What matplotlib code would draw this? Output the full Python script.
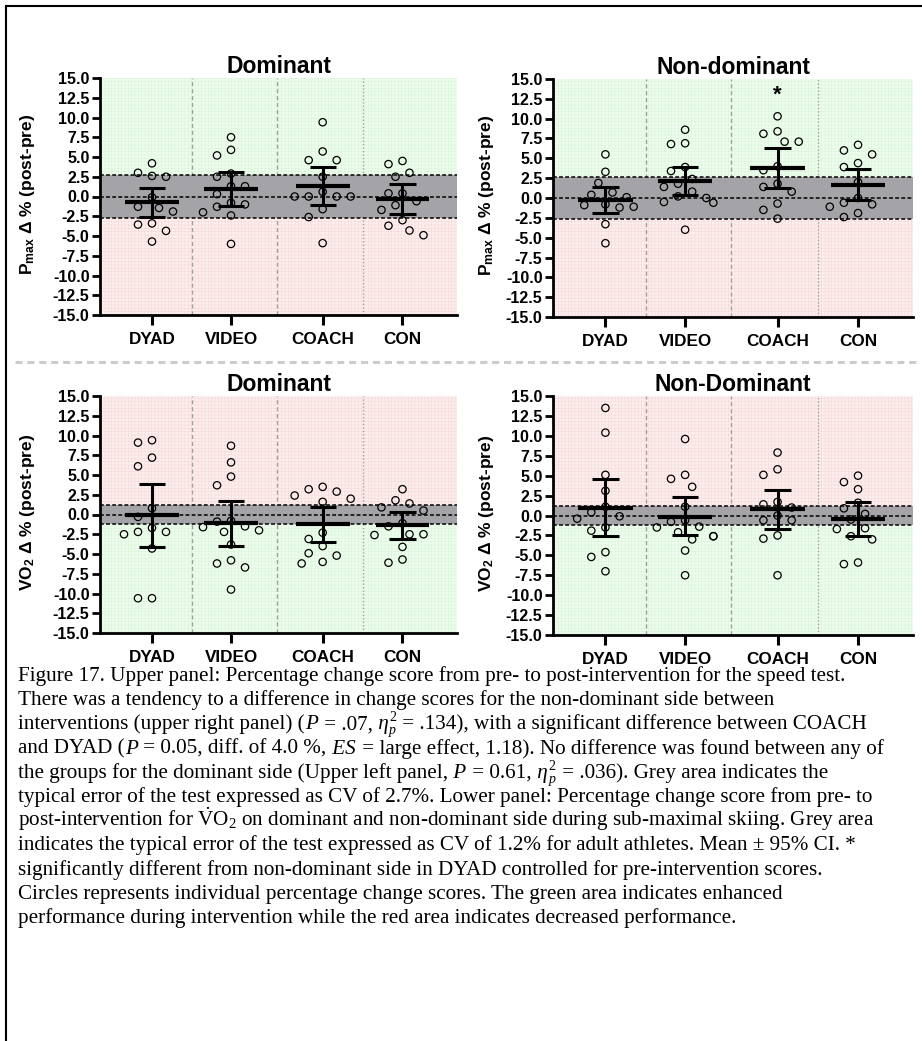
import matplotlib.pyplot as plt
import matplotlib.lines as mlines
import numpy as np

plt.rcParams['font.family'] = ['Liberation Sans', 'DejaVu Sans']
plt.rcParams['mathtext.fontset'] = 'custom'
plt.rcParams['mathtext.rm'] = 'Liberation Serif'
plt.rcParams['mathtext.it'] = 'Liberation Serif:italic'
plt.rcParams['mathtext.bf'] = 'Liberation Sans:bold'
plt.rcParams['hatch.linewidth'] = 0.35

groups = ['DYAD', 'VIDEO', 'COACH', 'CON']

# P_max, dominant side
pmax_dom = [
    [4.2, 2.5, 2.6, 3.0, -0.1, -1.3, -1.45, -1.9, -3.4, -3.55, -4.35, -5.7],
    [7.5, 5.9, 5.2, 2.9, 2.5, 1.3, 1.3, 0.3, -0.8, -1.0, -1.3, -2.0, -2.4, -6.0],
    [9.4, 5.7, 4.6, 4.6, 2.5, 0.6, 0.0, 0.0, 0.0, 0.0, -1.6, -2.6, -5.9],
    [4.5, 4.1, 3.0, 2.5, 0.4, 0.4, -0.6, -1.1, -1.7, -3.0, -3.7, -4.3, -4.9],
]
pmax_dom_mean = [-0.72, 0.93, 1.27, -0.34]
pmax_dom_lo = [-2.58, -1.14, -1.10, -2.20]
pmax_dom_hi = [1.06, 3.04, 3.72, 1.61]

# P_max, non-dominant side
pmax_nondom = [
    [5.5, 3.3, 1.9, 0.7, 0.1, 0.4, -1.1, -0.8, -1.2, -0.9, -3.3, -5.7],
    [8.6, 6.8, 6.9, 3.9, 3.4, 2.4, 1.8, 1.4, 0.8, 0.2, 0.0, -0.5, -0.6, -4.0],
    [10.3, 8.1, 8.4, 7.1, 7.1, 4.0, 3.5, 1.4, 1.8, 0.8, -0.7, -1.5, -2.6],
    [6.7, 6.0, 5.5, 4.4, 3.9, 2.0, 0.0, -1.1, -0.8, -0.6, -1.9, -2.4],
]
pmax_nondom_mean = [-0.19, 2.13, 3.73, 1.60]
pmax_nondom_lo = [-1.95, 0.36, 1.29, -0.27]
pmax_nondom_hi = [1.42, 3.94, 6.25, 3.60]

# VO2, dominant side
vo2_dom = [
    [9.1, 9.4, 7.2, 6.1, 0.8, -0.3, -1.7, -2.2, -2.5, -2.2, -4.3, -10.6, -10.6],
    [8.7, 6.6, 4.8, 3.7, -0.9, -0.8, -1.6, -1.5, -2.2, -2.0, -3.8, -6.2, -6.7, -5.8, -9.5],
    [3.5, 3.2, 2.9, 2.4, 2.0, 1.6, -2.3, -3.1, -4.0, -5.2, -4.9, -6.2, -6.0],
    [3.2, 1.8, 1.4, 0.5, 0.9, -1.5, -1.1, -2.5, -2.6, -2.5, -4.1, -6.1, -5.7],
]
vo2_dom_mean = [-0.09, -1.10, -1.18, -1.39]
vo2_dom_lo = [-4.13, -3.96, -3.54, -3.12]
vo2_dom_hi = [3.87, 1.77, 1.01, 0.29]

# VO2, non-dominant side
vo2_nondom = [
    [13.5, 10.4, 5.1, 3.1, 1.1, -0.1, -0.4, 0.4, -1.5, -1.9, -4.6, -5.2, -7.0],
    [9.6, 5.1, 4.6, 3.6, 1.1, -0.6, -0.8, -1.5, -1.4, -2.6, -3.0, -2.6, -2.1, -4.4, -7.5],
    [7.9, 5.8, 5.1, 1.0, 1.7, 1.4, 0.0, -0.6, -0.6, -2.5, -2.9, -7.5],
    [5.0, 4.2, 3.3, 1.6, 0.2, 0.9, -0.5, -1.7, -1.6, -3.0, -2.6, -6.1, -5.9],
]
vo2_nondom_mean = [0.98, -0.13, 0.82, -0.48]
vo2_nondom_lo = [-2.57, -2.51, -1.69, -2.57]
vo2_nondom_hi = [4.62, 2.26, 3.20, 1.65]

pmax_cv = 2.7
vo2_cv = 1.2

# caption lines as runs of (text, kind): n = normal, i = italic, sup / sub = small raised / lowered
caption = [
    [("Figure 17. Upper panel: Percentage change score from pre- to post-intervention for the speed test.", 'n')],
    [("There was a tendency to a difference in change scores for the non-dominant side between", 'n')],
    [("interventions (upper right panel) (", 'n'), ("P", 'i'), (" = .07,", 'n'), (" \u03b7", 'i'),
     ("2", 'sup'), ("p", 'sub'), (" = .134), with a significant difference between COACH", 'n')],
    [("and DYAD (", 'n'), ("P", 'i'), (" = 0.05, diff. of 4.0 %,", 'n'), (" ES", 'i'),
     (" = large effect, 1.18). No difference was found between any of", 'n')],
    [("the groups for the dominant side (Upper left panel,", 'n'), (" P", 'i'), (" = 0.61,", 'n'),
     (" \u03b7", 'i'), ("2", 'sup'), ("p", 'sub'), (" = .036). Grey area indicates the", 'n')],
    [("typical error of the test expressed as CV of 2.7%. Lower panel: Percentage change score from pre- to", 'n')],
    [(r"post-intervention for $\dot{\mathrm{V}}$O$_2$ on dominant and non-dominant side during sub-maximal skiing. Grey area", 'n')],
    [("indicates the typical error of the test expressed as CV of 1.2% for adult athletes. Mean \u00b1 95% CI. *", 'n')],
    [("significantly different from non-dominant side in DYAD controlled for pre-intervention scores.", 'n')],
    [("Circles represents individual percentage change scores. The green area indicates enhanced", 'n')],
    [("performance during intervention while the red area indicates decreased performance.", 'n')],
]

W, H = 922, 1041
xpos = [0, 1, 2.16, 3.17]
seps = [0.506, 1.58, 2.67]
xlim = (-0.658, 3.86)
GREEN, GREEN_H = '#eefcee', '#d8f4d8'
RED, RED_H = '#fdeeee', '#f6d6d6'


def swarm(vals, xc, px_x=79.0, px_y=7.9, step=7.0, dist=12.0):
    vals = np.asarray(vals, float)
    xs = np.zeros(len(vals))
    placed = []
    for i in np.argsort(-vals, kind='stable'):
        y = vals[i] * px_y
        for k in [0, -1, 1, -2, 2, -3, 3, -4, 4]:
            dx = k * step
            if all((dx - px) ** 2 + (y - py) ** 2 >= dist ** 2 for px, py in placed):
                break
        placed.append((dx, y))
        xs[i] = xc + dx / px_x
    return xs


def panel(rect, data, mean, lo, hi, cv, title, ylabel, up_good, lab_x, title_pad):
    ax = fig.add_axes(rect)
    ax.set_xlim(*xlim)
    ax.set_ylim(-15, 15)
    top_c, top_h = (GREEN, GREEN_H) if up_good else (RED, RED_H)
    bot_c, bot_h = (RED, RED_H) if up_good else (GREEN, GREEN_H)
    ax.fill_between(xlim, 0, 15, facecolor=top_c, edgecolor=top_h, hatch='+++++', lw=0, zorder=0)
    ax.fill_between(xlim, -15, 0, facecolor=bot_c, edgecolor=bot_h, hatch='+++++', lw=0, zorder=0)
    for j, s in enumerate(seps):
        ax.axvline(s, color='#a0a0a0', lw=1.0, ls=(0, (3, 2)) if j < 2 else (0, (1, 1.5)), zorder=0.5)
    ax.axhspan(-cv, cv, color='#a4a4a8', lw=0, zorder=1)
    for yv in (-cv, 0, cv):
        ax.axhline(yv, color='black', lw=1.1, ls=(0, (2.5, 1.5)), zorder=1.5)
    for i, vals in enumerate(data):
        xs = swarm(vals, xpos[i])
        ax.scatter(xs, vals, s=28, facecolors='none', edgecolors='black', linewidths=0.9, zorder=2)
        ax.hlines(mean[i], xpos[i] - 0.34, xpos[i] + 0.34, color='black', lw=3.0, zorder=3)
        ax.vlines(xpos[i], lo[i], hi[i], color='black', lw=2.2, zorder=3)
        ax.hlines([lo[i], hi[i]], xpos[i] - 0.165, xpos[i] + 0.165, color='black', lw=2.2, zorder=3)
    yt = np.arange(-15, 15.1, 2.5)
    ax.set_yticks(yt, labels=[f'{v:.1f}' for v in yt], fontweight='bold', fontsize=11.5)
    ax.set_xticks(xpos, labels=groups, fontweight='bold', fontsize=12.3)
    ax.tick_params(axis='y', length=6, width=2, pad=1.5)
    ax.tick_params(axis='x', length=7, width=2.2, pad=5)
    for sp in ('top', 'right'):
        ax.spines[sp].set_visible(False)
    for sp in ('left', 'bottom'):
        ax.spines[sp].set_linewidth(2)
    ax.set_title(title, fontweight='bold', fontsize=16.5, pad=title_pad)
    ax.set_ylabel(ylabel, fontweight='bold', fontsize=12.5)
    ax.yaxis.set_label_coords(lab_x, 0.51)
    return ax


fig = plt.figure(figsize=(W / 100, H / 100), dpi=100)

ylab_p = r'$\mathbf{P}_{\mathbf{max}}$ Δ % (post-pre)'
ylab_v = r'$\mathbf{VO}_{\mathbf{2}}$ Δ % (post-pre)'

panel([100 / W, 1 - 315 / H, 357 / W, 237 / H], pmax_dom, pmax_dom_mean, pmax_dom_lo,
      pmax_dom_hi, pmax_cv, 'Dominant', ylab_p, True, -0.176, -3)
ax2 = panel([553 / W, 1 - 317 / H, 360 / W, 238 / H], pmax_nondom, pmax_nondom_mean, pmax_nondom_lo,
            pmax_nondom_hi, pmax_cv, 'Non-dominant', ylab_p, True, -0.158, -3)
ax2.text(xpos[2], 13.0, '*', ha='center', va='center', fontsize=16, fontweight='bold', zorder=4)
panel([100 / W, 1 - 633 / H, 357 / W, 237 / H], vo2_dom, vo2_dom_mean, vo2_dom_lo,
      vo2_dom_hi, vo2_cv, 'Dominant', ylab_v, False, -0.176, -4)
panel([553 / W, 1 - 635 / H, 360 / W, 239 / H], vo2_nondom, vo2_nondom_mean, vo2_nondom_lo,
      vo2_nondom_hi, vo2_cv, 'Non-Dominant', ylab_v, False, -0.158, -4)

# dashed separator between upper and lower panels
fig.add_artist(mlines.Line2D([15 / W, 920 / W], [1 - 362 / H] * 2, transform=fig.transFigure,
                             color='#cccccc', lw=2.2, dashes=(2.3, 1.6)))
# page border
fig.add_artist(mlines.Line2D([6 / W, 1], [1 - 6 / H] * 2, transform=fig.transFigure, color='black', lw=1.5))
fig.add_artist(mlines.Line2D([6 / W] * 2, [0, 1 - 6 / H], transform=fig.transFigure, color='black', lw=1.5))

# caption, drawn run by run so italics / sub- and superscripts sit inline
renderer = fig.canvas.get_renderer()
fs = 15.2
for k, runs in enumerate(caption):
    base = 681 + 24.2 * k
    x = 18.0
    sup_x = None
    for txt, kind in runs:
        size, dy, style = fs, 0.0, 'normal'
        if kind == 'i':
            style = 'italic'
        elif kind == 'sup':
            size, dy = fs * 0.66, -8.0
            sup_x = x
        elif kind == 'sub':
            size, dy, style = fs * 0.66, 5.0, 'italic'
            x = sup_x if sup_x is not None else x
        t = fig.text(x / W, 1 - (base + dy) / H, txt, va='baseline', ha='left',
                     fontfamily='Liberation Serif', fontsize=size, fontstyle=style)
        w = t.get_window_extent(renderer).width
        x = max(x + w + (1.0 if kind in ('sup', 'sub', 'i') else 0.0), x)

fig.savefig('out.png', dpi=100, facecolor='white')
